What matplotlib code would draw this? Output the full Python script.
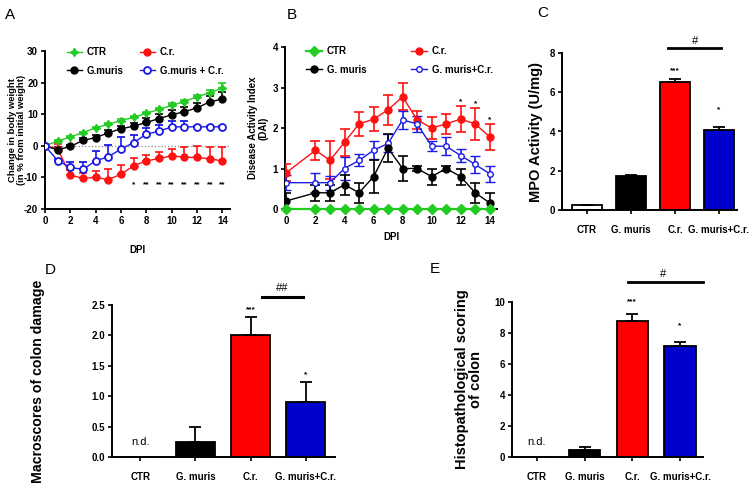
import numpy as np
import matplotlib
matplotlib.use("Agg")
import matplotlib.pyplot as plt
from matplotlib.lines import Line2D

plt.rcParams['font.family'] = ['Liberation Sans', 'DejaVu Sans']
plt.rcParams['font.weight'] = 'bold'
plt.rcParams['axes.unicode_minus'] = False

# ---------------- Panel A data ----------------
dpi_a = [0, 1, 2, 3, 4, 5, 6, 7, 8, 9, 10, 11, 12, 13, 14]
ctr_a = [0, 1.5, 2.8, 4.2, 5.7, 6.8, 8.0, 9.0, 10.3, 11.5, 12.8, 14.0, 15.5, 16.8, 18.2]
ctr_a_err = [0, 0.3, 0.3, 0.3, 0.4, 0.4, 0.4, 0.5, 0.5, 0.5, 0.6, 0.6, 0.7, 1.0, 1.6]
gm_a = [0, -1.3, -0.2, 1.7, 2.6, 4.1, 5.4, 6.2, 7.4, 8.6, 9.8, 10.8, 12.0, 13.9, 14.8]
gm_a_err = [0, 0.8, 0.6, 0.8, 0.8, 0.8, 0.9, 1.0, 1.3, 1.4, 1.6, 1.6, 1.7, 2.0, 2.2]
cr_a = [0, -1.0, -9.3, -10.3, -10.0, -10.7, -9.0, -6.3, -4.8, -4.0, -3.2, -3.6, -3.7, -4.1, -4.8]
cr_a_err = [0, 1.5, 1.5, 1.8, 2.0, 3.2, 3.0, 2.3, 1.8, 2.0, 2.2, 3.1, 3.7, 3.8, 4.3]
gc_a = [0, -4.7, -6.8, -7.5, -4.7, -3.5, -1.0, 1.0, 3.7, 4.6, 6.0, 6.0, 6.0, 6.0, 6.0]
gc_a_err = [0, 0.6, 1.8, 2.5, 3.2, 3.8, 3.8, 2.5, 1.8, 1.9, 1.7, 1.7, 0.4, 0.4, 0.4]
star_days_a = [7, 8, 9, 10, 11, 12, 13, 14]
star_txt_a = ['*', '**', '**', '**', '**', '**', '**', '**']

# ---------------- Panel B data ----------------
dpi_b = [0, 2, 3, 4, 5, 6, 7, 8, 9, 10, 11, 12, 13, 14]
ctr_b = [0, 0, 0, 0, 0, 0, 0, 0, 0, 0, 0, 0, 0, 0]
gm_b = [0.2, 0.4, 0.4, 0.6, 0.4, 0.8, 1.5, 1.0, 1.0, 0.8, 1.0, 0.8, 0.4, 0.15]
gm_b_err = [0.2, 0.2, 0.2, 0.25, 0.25, 0.4, 0.35, 0.32, 0.05, 0.2, 0.05, 0.2, 0.25, 0.25]
cr_b = [0.9, 1.45, 1.2, 1.65, 2.1, 2.22, 2.45, 2.77, 2.2, 2.0, 2.1, 2.22, 2.1, 1.78]
cr_b_err = [0.2, 0.23, 0.47, 0.33, 0.3, 0.3, 0.37, 0.33, 0.23, 0.27, 0.25, 0.33, 0.4, 0.33]
gc_b = [0.65, 0.65, 0.65, 1.0, 1.2, 1.45, 1.62, 2.2, 2.1, 1.55, 1.55, 1.32, 1.1, 0.87]
gc_b_err = [0.18, 0.23, 0.17, 0.28, 0.15, 0.22, 0.22, 0.22, 0.2, 0.13, 0.22, 0.15, 0.2, 0.2]
star_days_b = [12, 13, 14]

# ---------------- Bar panels ----------------
groups = ['CTR', 'G. muris', 'C.r.', 'G. muris+C.r.']
bar_colors = ['white', 'black', '#ff0000', '#0000cc']
mpo = [0.25, 1.75, 6.5, 4.1]
mpo_err = [0.03, 0.05, 0.2, 0.15]
macro = [0.0, 0.25, 2.0, 0.9]
macro_err = [0.0, 0.25, 0.3, 0.33]
histo = [0.0, 0.45, 8.8, 7.15]
histo_err = [0.0, 0.2, 0.45, 0.3]

W, H = 750, 494
fig = plt.figure(figsize=(7.5, 4.94), dpi=100)


def ax_px(l, r, t, b):
    return fig.add_axes([l / W, 1 - b / H, (r - l) / W, (b - t) / H])


def style(ax, fs=7):
    for s in ['top', 'right']:
        ax.spines[s].set_visible(False)
    for s in ['left', 'bottom']:
        ax.spines[s].set_linewidth(1.4)
    ax.tick_params(width=1.2, length=3, labelsize=fs, pad=2)
    for lab in ax.get_xticklabels() + ax.get_yticklabels():
        lab.set_fontweight('bold')


GREEN = '#22cc22'
RED = '#ff1111'
BLUE = '#1a1ae6'


def up(e):
    return [np.zeros(len(e)), e]


# ---------------- Panel A ----------------
axA = ax_px(45, 230, 51, 209)
axA.plot([0, 14.6], [0, 0], ls=':', color='#888888', lw=0.9, zorder=1)
ekw = dict(lw=1.0, capsize=3, elinewidth=1.2, capthick=1.2, zorder=3)
axA.errorbar(dpi_a, ctr_a, yerr=up(ctr_a_err), color=GREEN, marker=(4, 1, 0), ms=6, **ekw)
axA.errorbar(dpi_a, cr_a, yerr=up(cr_a_err), color=RED, marker='o', ms=5, **ekw)
axA.errorbar(dpi_a, gm_a, yerr=up(gm_a_err), color='black', marker='o', ms=5, **ekw)
axA.errorbar(dpi_a, gc_a, yerr=up(gc_a_err), color=BLUE, marker='o', ms=5, mfc='white',
             mew=1.3, **ekw)
for d, s in zip(star_days_a, star_txt_a):
    axA.text(d, -12.3, s, ha='center', va='center', fontsize=6, fontweight='bold')
axA.set_xlim(0, 14.6)
axA.set_ylim(-20, 30)
axA.set_xticks(range(0, 15, 2))
axA.set_yticks(range(-20, 31, 10))
style(axA)
axA.set_xlabel('DPI', fontsize=7, fontweight='bold', labelpad=14)
axA.set_ylabel('Change in body weight\n(in % from initial weight)', fontsize=6.8,
               fontweight='bold', linespacing=1.0)
axA.yaxis.set_label_coords(-0.105, 0.5)
hA = [Line2D([], [], color=GREEN, marker=(4, 1, 0), ms=6, lw=1.0),
      Line2D([], [], color='black', marker='o', ms=5, lw=1.0),
      Line2D([], [], color=RED, marker='o', ms=5, lw=1.0),
      Line2D([], [], color=BLUE, marker='o', ms=5, mfc='white', mew=1.3, lw=1.0)]
axA.legend(hA, ['CTR', 'G.muris', 'C.r.', 'G.muris + C.r.'], ncol=2, frameon=False,
           loc='upper left', bbox_to_anchor=(0.07, 1.08), handlelength=1.6,
           columnspacing=1.6, handletextpad=0.5, labelspacing=0.9,
           prop={'weight': 'bold', 'size': 7})

# ---------------- Panel B ----------------
axB = ax_px(285, 497, 47, 209)
ekwb = dict(lw=1.0, capsize=3.5, elinewidth=1.2, capthick=1.2, zorder=3)
axB.errorbar(dpi_b, cr_b, yerr=cr_b_err, color=RED, marker='o', ms=5, **ekwb)
axB.errorbar(dpi_b, gc_b, yerr=gc_b_err, color=BLUE, marker='o', ms=4, mfc='white', mew=1.0,
             **ekwb)
axB.errorbar(dpi_b, gm_b, yerr=gm_b_err, color='black', marker='o', ms=5, **ekwb)
axB.plot(dpi_b, ctr_b, color=GREEN, marker='D', ms=5, lw=1.6, zorder=4, clip_on=False)
for d in star_days_b:
    i = dpi_b.index(d)
    axB.text(d, cr_b[i] + cr_b_err[i] + 0.02, '*', ha='center', va='bottom', fontsize=6,
             fontweight='bold')
axB.set_xlim(-0.1, 14.5)
axB.set_ylim(0, 4)
axB.set_xticks(range(0, 15, 2))
axB.set_yticks(range(0, 5))
style(axB)
axB.set_xlabel('DPI', fontsize=7, fontweight='bold', labelpad=4)
axB.set_ylabel('Disease Activity Index\n(DAI)', fontsize=7, fontweight='bold', linespacing=1.0)
axB.yaxis.set_label_coords(-0.08, 0.5)
hB = [Line2D([], [], color=GREEN, marker='D', ms=5, lw=1.6),
      Line2D([], [], color='black', marker='o', ms=5, lw=1.0),
      Line2D([], [], color=RED, marker='o', ms=5, lw=1.0),
      Line2D([], [], color=BLUE, marker='o', ms=4, mfc='white', mew=1.0, lw=1.0)]
axB.legend(hB, ['CTR', 'G. muris', 'C.r.', 'G. muris+C.r.'], ncol=2, frameon=False,
           loc='upper left', bbox_to_anchor=(0.06, 1.06), handlelength=1.6,
           columnspacing=4.6, handletextpad=0.5, labelspacing=0.9,
           prop={'weight': 'bold', 'size': 7})


# ---------------- Bar panels ----------------
def bar_panel(ax, vals, errs, width, xlim, ylim, yticks, ylabel, yfs, fs=7):
    x = np.arange(len(groups))
    ax.bar(x, vals, width=width, color=bar_colors, edgecolor='black', linewidth=1.3, zorder=2)
    for xi, v, e in zip(x, vals, errs):
        if e > 0:
            ax.errorbar([xi], [v], yerr=[[0], [e]], color='black', capsize=4,
                        elinewidth=1.3, capthick=1.3, zorder=3, fmt='none')
    ax.set_xlim(*xlim)
    ax.set_ylim(*ylim)
    ax.set_yticks(yticks)
    ax.set_xticks(x)
    ax.set_xticklabels(groups)
    style(ax, fs)
    ax.tick_params(axis='x', pad=8)
    ax.set_ylabel(ylabel, fontsize=yfs, fontweight='bold', linespacing=1.0)
    return x


axC = ax_px(562, 737, 53, 210)
bar_panel(axC, mpo, mpo_err, 0.7, (-0.57, 3.41), (0, 8), [0, 2, 4, 6, 8],
          'MPO Activity (U/mg)', 10.5)
axC.yaxis.set_label_coords(-0.11, 0.5)
axC.text(2, 7.1, '***', ha='center', va='center', fontsize=6, fontweight='bold')
axC.text(3, 5.1, '*', ha='center', va='center', fontsize=6, fontweight='bold')
axC.plot([1.85, 3.05], [8.25, 8.25], color='black', lw=2, clip_on=False)
axC.text(2.45, 8.35, '#', ha='center', va='bottom', fontsize=8, fontweight='normal')

axD = ax_px(112, 335, 305, 457)
bar_panel(axD, macro, macro_err, 0.7, (-0.51, 3.53), (0, 2.5),
          [0.0, 0.5, 1.0, 1.5, 2.0, 2.5], 'Macroscores of colon damage', 10.2)
axD.set_yticklabels(['0.0', '0.5', '1.0', '1.5', '2.0', '2.5'])
for lab in axD.get_yticklabels():
    lab.set_fontweight('bold')
axD.yaxis.set_label_coords(-0.30, 0.5)
axD.text(0, 0.25, 'n.d.', ha='center', va='center', fontsize=8, fontweight='normal')
axD.text(2, 2.43, '***', ha='center', va='center', fontsize=6, fontweight='bold')
axD.text(3, 1.36, '*', ha='center', va='center', fontsize=6, fontweight='bold')
axD.plot([2.2, 2.95], [2.63, 2.63], color='black', lw=2.2, clip_on=False)
axD.text(2.58, 2.7, '##', ha='center', va='bottom', fontsize=8, fontweight='normal')

axE = ax_px(512, 703, 302, 457)
bar_panel(axE, histo, histo_err, 0.66, (-0.52, 3.48), (0, 10), [0, 2, 4, 6, 8, 10],
          'Histopathological scoring\nof colon', 10.5)
axE.yaxis.set_label_coords(-0.15, 0.5)
axE.text(0, 1.0, 'n.d.', ha='center', va='center', fontsize=8, fontweight='normal')
axE.text(2, 10.0, '***', ha='center', va='center', fontsize=6, fontweight='bold')
axE.text(3, 8.5, '*', ha='center', va='center', fontsize=6, fontweight='bold')
axE.plot([1.9, 3.48], [11.3, 11.3], color='black', lw=2, clip_on=False)
axE.text(2.65, 11.5, '#', ha='center', va='bottom', fontsize=8, fontweight='normal')

# panel letters
for letter, (px, py) in zip('ABCDE', [(5, 8), (287, 8), (537, 6), (45, 263), (430, 262)]):
    fig.text(px / W, 1 - py / H, letter, fontsize=11, fontweight='normal', va='top', ha='left')

fig.savefig('out.png', dpi=100)
